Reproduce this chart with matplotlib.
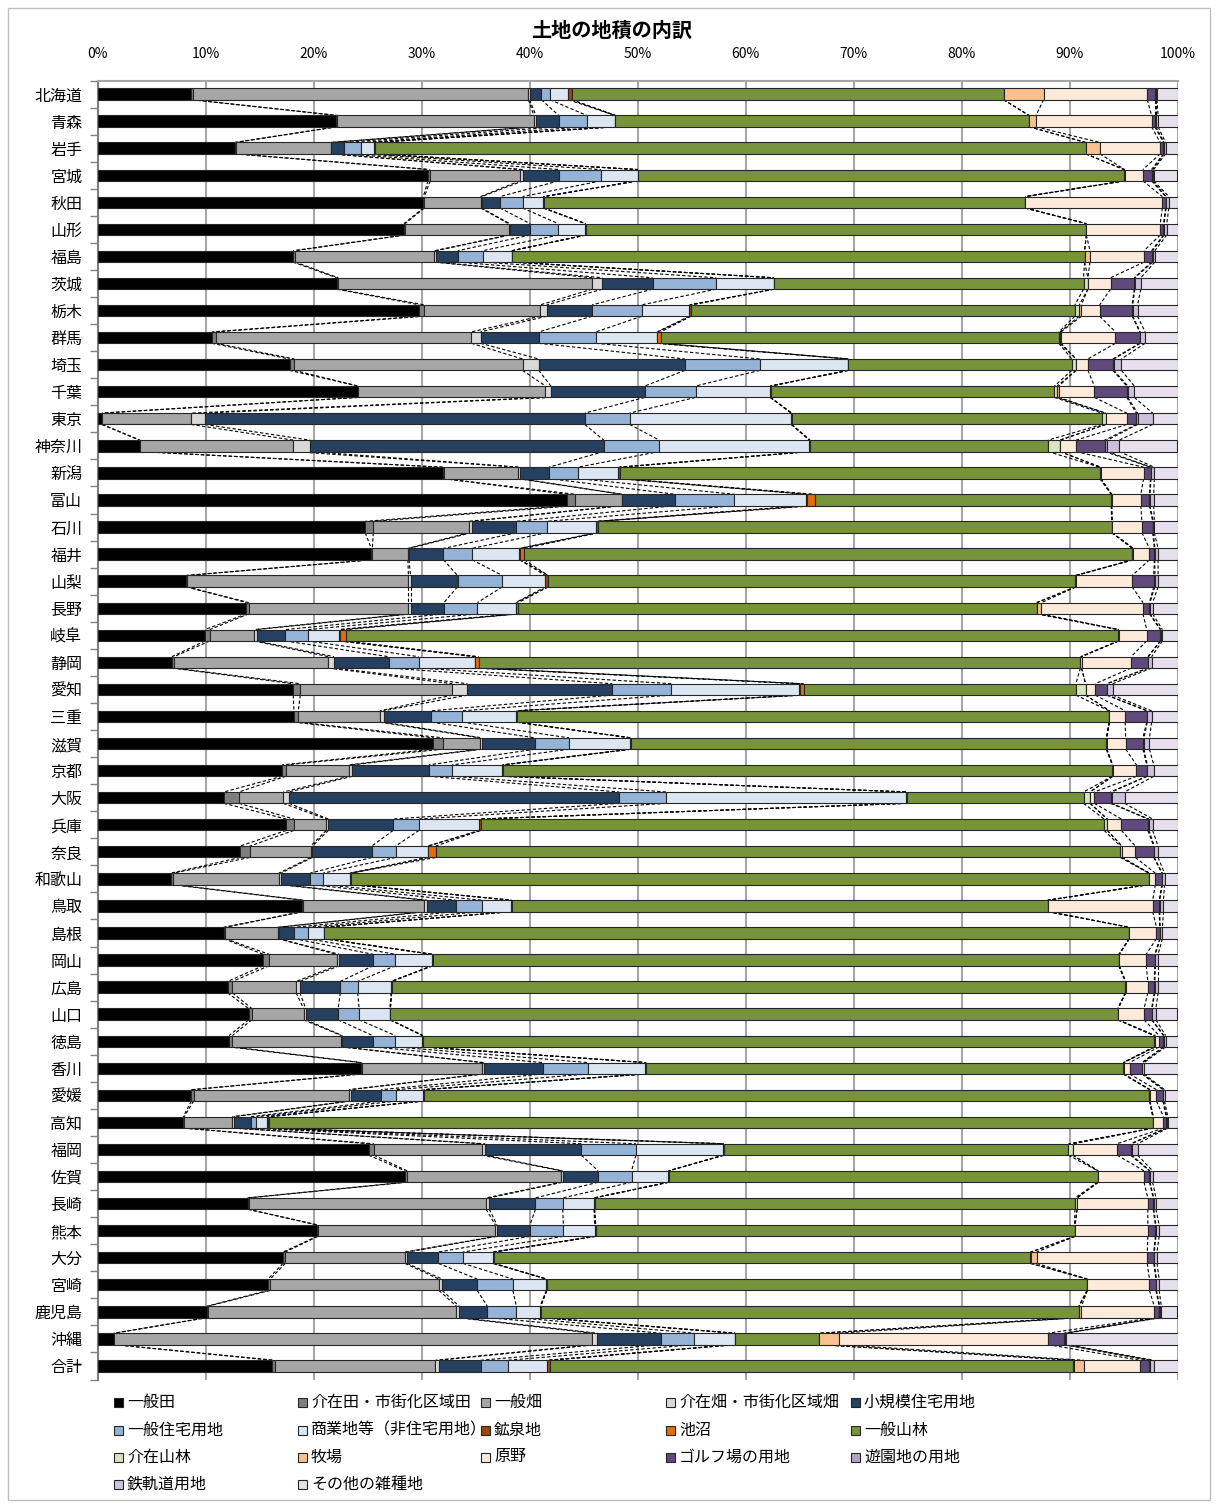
import numpy as np
import matplotlib.pyplot as plt
from matplotlib.patches import Rectangle
from matplotlib.collections import LineCollection

plt.rcParams['font.family'] = ['Noto Sans CJK JP', 'DejaVu Sans']

prefs = ['北海道', '青森', '岩手', '宮城', '秋田', '山形', '福島', '茨城', '栃木', '群馬',
         '埼玉', '千葉', '東京', '神奈川', '新潟', '富山', '石川', '福井', '山梨', '長野',
         '岐阜', '静岡', '愛知', '三重', '滋賀', '京都', '大阪', '兵庫', '奈良', '和歌山',
         '鳥取', '島根', '岡山', '広島', '山口', '徳島', '香川', '愛媛', '高知', '福岡',
         '佐賀', '長崎', '熊本', '大分', '宮崎', '鹿児島', '沖縄', '合計']

cats = ['一般田', '介在田・市街化区域田', '一般畑', '介在畑・市街化区域畑', '小規模住宅用地',
        '一般住宅用地', '商業地等（非住宅用地）', '鉱泉地', '池沼', '一般山林',
        '介在山林', '牧場', '原野', 'ゴルフ場の用地', '遊園地の用地',
        '鉄軌道用地', 'その他の雑種地']

colors = ['#000000', '#7F7F7F', '#A6A6A6', '#D9D9D9', '#254061',
          '#95B3D7', '#DCE6F2', '#984807', '#E46C0A', '#77933C',
          '#D7E4BD', '#FAC090', '#FDEADA', '#604A7B', '#B3A2C7',
          '#CCC1DA', '#E6E0EC']

# shares (%), one list per category, rows in prefs order
ippan_ta = [8.7, 22.1, 12.7, 30.6, 30.2, 28.4, 18.1, 22.15, 29.8, 10.6,
            17.8, 24.1, 0.4, 3.9, 32.0, 43.5, 24.8, 25.4, 8.2, 13.8,
            9.95, 6.9, 18.1, 18.2, 31.1, 17.1, 11.7, 17.5, 13.2, 6.8,
            19.0, 11.7, 15.35, 12.05, 14.0, 12.2, 24.4, 8.7, 7.95, 25.1,
            28.5, 13.9, 20.35, 17.2, 15.8, 10.15, 1.5, 16.2]
kaizai_ta = [0.1, 0.1, 0.1, 0.2, 0.1, 0.1, 0.2, 0.15, 0.45, 0.35,
             0.45, 0.05, 0.05, 0.05, 0.05, 0.77, 0.75, 0.1, 0.1, 0.2,
             0.45, 0.2, 0.65, 0.4, 0.9, 0.35, 1.4, 0.7, 0.9, 0.2,
             0.1, 0.15, 0.55, 0.45, 0.3, 0.3, 0.1, 0.2, 0.1, 0.5,
             0.2, 0.1, 0.1, 0.2, 0.2, 0.1, 0.05, 0.2]
ippan_hata = [31.1, 18.2, 8.8, 8.3, 5.2, 9.6, 12.9, 23.5, 10.75, 23.7,
              21.15, 17.35, 8.2, 14.2, 6.85, 4.33, 8.85, 3.3, 20.5, 14.8,
              4.1, 14.3, 14.05, 7.56, 3.4, 5.85, 4.1, 3.0, 5.64, 9.8,
              11.2, 4.85, 6.25, 5.9, 4.8, 10.1, 11.2, 14.4, 4.45, 10.0,
              14.3, 22.0, 16.45, 11.1, 15.65, 23.0, 44.3, 14.9]
kaizai_hata = [0.1, 0.2, 0.05, 0.3, 0.1, 0.1, 0.15, 0.95, 0.6, 0.85,
               1.5, 0.5, 1.3, 1.55, 0.2, 0.05, 0.25, 0.1, 0.2, 0.2,
               0.24, 0.53, 1.4, 0.34, 0.2, 0.3, 0.53, 0.2, 0.16, 0.2,
               0.24, 0.1, 0.25, 0.35, 0.2, 0.1, 0.1, 0.15, 0.14, 0.3,
               0.1, 0.3, 0.15, 0.2, 0.3, 0.25, 0.45, 0.3]
shokibo = [1.1, 2.1, 1.2, 3.3, 1.7, 1.9, 2.0, 4.65, 4.2, 5.4,
           13.56, 8.7, 35.15, 27.2, 2.7, 4.9, 4.15, 3.2, 4.35, 3.1,
           2.66, 5.07, 13.4, 4.44, 4.9, 7.1, 30.57, 6.0, 5.5, 2.7,
           2.66, 1.45, 3.14, 3.75, 3.0, 2.8, 5.5, 2.85, 1.56, 8.9,
           3.3, 4.27, 3.05, 2.9, 3.25, 2.6, 5.9, 3.9]
ippan_jutaku = [0.8, 2.6, 1.6, 3.9, 2.1, 2.6, 2.3, 5.9, 4.6, 5.3,
                6.94, 4.7, 4.15, 5.15, 2.66, 5.5, 2.8, 2.65, 4.15, 3.1,
                2.1, 2.77, 5.44, 2.86, 3.16, 2.15, 4.35, 2.4, 2.2, 1.2,
                2.44, 1.3, 2.06, 1.6, 1.95, 2.1, 4.2, 1.4, 0.54, 5.06,
                3.1, 2.53, 3.1, 2.27, 3.3, 2.7, 3.1, 2.5]
shogyo = [1.7, 2.6, 1.2, 3.4, 1.9, 2.5, 2.7, 5.3, 4.4, 5.7,
          8.16, 6.9, 14.95, 13.9, 3.77, 6.67, 4.6, 4.4, 4.0, 3.55,
          2.9, 5.23, 11.86, 5.0, 5.64, 4.65, 22.25, 5.6, 2.97, 2.5,
          2.7, 1.4, 3.4, 3.1, 2.85, 2.5, 5.3, 2.5, 0.96, 8.1,
          3.4, 2.9, 2.9, 2.78, 3.1, 2.2, 3.75, 3.6]
kosen = [0.3, 0.05, 0.05, 0.0, 0.05, 0.05, 0.05, 0.05, 0.15, 0.0,
         0.05, 0.05, 0.05, 0.05, 0.17, 0.05, 0.2, 0.05, 0.25, 0.05,
         0.05, 0.05, 0.05, 0.05, 0.1, 0.05, 0.05, 0.1, 0.05, 0.05,
         0.05, 0.05, 0.05, 0.05, 0.05, 0.05, 0.05, 0.05, 0.1, 0.05,
         0.05, 0.05, 0.1, 0.1, 0.05, 0.05, 0.0, 0.3]
chisho = [0, 0, 0, 0, 0, 0, 0, 0, 0, 0.3,
          0, 0, 0, 0, 0, 0.7, 0, 0.4, 0, 0.2,
          0.55, 0.3, 0.35, 0, 0, 0, 0, 0, 0.7, 0,
          0, 0, 0, 0, 0, 0, 0.05, 0, 0.1, 0,
          0, 0, 0, 0, 0, 0, 0.05, 0]
sanrin = [40.0, 38.3, 65.9, 45.0, 44.6, 46.4, 53.0, 28.65, 35.55, 36.9,
          20.7, 26.3, 28.7, 22.05, 44.4, 27.5, 47.55, 56.4, 48.85, 48.0,
          71.55, 55.8, 25.15, 54.85, 44.0, 56.45, 16.35, 57.8, 63.4, 73.95,
          49.7, 74.6, 63.55, 67.95, 67.4, 67.75, 44.2, 67.25, 81.95, 31.9,
          39.75, 44.5, 44.4, 49.7, 50.05, 49.85, 7.7, 48.5]
kaizai_sanrin = [0, 0, 0, 0.1, 0.05, 0, 0, 0.4, 0.4, 0.1,
                 0.4, 0.25, 0.35, 1.1, 0.1, 0.05, 0.05, 0.1, 0.05, 0.05,
                 0.05, 0.1, 0.9, 0.05, 0.05, 0.05, 0.6, 0.3, 0.15, 0.05,
                 0.05, 0.05, 0.05, 0.05, 0.05, 0.05, 0.05, 0.05, 0.05, 0.4,
                 0.05, 0.2, 0.05, 0.1, 0.05, 0.05, 0.05, 0.05]
bokujo = [3.7, 0.65, 1.3, 0, 0, 0, 0.5, 0, 0.2, 0.1,
          0, 0.15, 0, 0, 0, 0, 0, 0, 0, 0.4,
          0, 0, 0, 0, 0, 0, 0, 0, 0, 0,
          0, 0, 0, 0, 0, 0.1, 0, 0, 0, 0,
          0, 0, 0, 0.5, 0, 0.2, 1.8, 0.9]
genya = [9.6, 10.7, 5.6, 1.7, 12.7, 6.85, 5.0, 2.1, 1.7, 5.05,
         1.1, 3.3, 1.95, 1.5, 3.96, 2.7, 2.75, 1.5, 5.2, 9.4,
         2.6, 4.6, 0.9, 1.45, 1.75, 2.2, 0.4, 1.3, 1.25, 0.55,
         9.7, 2.5, 2.5, 2.05, 2.4, 0.35, 0.55, 0.6, 0.95, 4.1,
         4.25, 6.55, 6.75, 10.25, 5.75, 6.75, 19.4, 5.2]
golf = [0.7, 0.3, 0.3, 0.8, 0.3, 0.3, 0.7, 2.2, 3.0, 2.25,
        2.3, 3.0, 0.9, 2.65, 0.64, 0.8, 1.0, 0.45, 2.0, 0.6,
        1.25, 1.55, 1.05, 2.0, 1.6, 0.95, 1.5, 2.45, 1.7, 0.6,
        0.6, 0.3, 0.8, 0.6, 0.7, 0.4, 1.15, 0.6, 0.25, 1.25,
        0.5, 0.5, 0.7, 0.6, 0.6, 0.45, 1.5, 0.9]
yuenchi = [0.1, 0.1, 0.05, 0.1, 0.05, 0.05, 0.1, 0.05, 0.05, 0.05,
           0.1, 0.1, 0.1, 0.25, 0.05, 0.05, 0.05, 0.05, 0.1, 0.05,
           0.05, 0.05, 0.05, 0.05, 0.1, 0.05, 0.1, 0.1, 0.05, 0.05,
           0.05, 0.05, 0.05, 0.05, 0.05, 0.05, 0.05, 0.05, 0.05, 0.1,
           0.05, 0.05, 0.05, 0.05, 0.05, 0.05, 0.1, 0.05]
tetsudo = [0.1, 0.2, 0.15, 0.1, 0.25, 0.25, 0.2, 0.55, 0.45, 0.45,
           0.7, 0.6, 1.4, 1.1, 0.3, 0.35, 0.1, 0.3, 0.3, 0.25,
           0.15, 0.3, 0.5, 0.4, 0.5, 0.6, 1.2, 0.35, 0.35, 0.2,
           0.35, 0.2, 0.25, 0.3, 0.35, 0.15, 0.15, 0.1, 0.1, 0.55,
           0.25, 0.2, 0.3, 0.25, 0.25, 0.15, 0.1, 0.35]
sonota = [1.9, 1.8, 1.1, 2.2, 0.8, 1.0, 2.1, 3.4, 3.7, 3.0,
          5.2, 4.0, 2.3, 5.4, 2.15, 2.2, 2.15, 1.8, 1.8, 2.3,
          1.4, 2.4, 6.0, 2.4, 2.6, 2.2, 4.9, 2.3, 1.8, 1.2,
          1.3, 1.4, 1.8, 1.8, 2.0, 1.1, 3.1, 1.2, 0.9, 3.7,
          2.3, 2.0, 1.7, 1.9, 1.7, 1.5, 10.3, 2.2]

data = np.array([ippan_ta, kaizai_ta, ippan_hata, kaizai_hata, shokibo,
                 ippan_jutaku, shogyo, kosen, chisho, sanrin,
                 kaizai_sanrin, bokujo, genya, golf, yuenchi,
                 tetsudo, sonota], dtype=float).T
share = data / data.sum(axis=1, keepdims=True) * 100
cum = np.cumsum(share, axis=1)
left = cum - share

W, H = 1218, 1506
fig = plt.figure(figsize=(W / 100, H / 100), dpi=100)
ax = fig.add_axes([97.5 / W, 1 - 1379.5 / H, 1080 / W, 1299 / H])

y = np.arange(len(prefs))
h = 0.42
for k in range(len(cats)):
    ax.barh(y, share[:, k], left=left[:, k], height=h, color=colors[k],
            edgecolor='#262626', linewidth=0.8, zorder=3)

# series lines between neighbouring bars
segs = []
for i in range(len(prefs) - 1):
    for k in range(len(cats) - 1):
        segs.append([(cum[i, k], i + h / 2), (cum[i + 1, k], i + 1 - h / 2)])
ax.add_collection(LineCollection(segs, colors='black', linewidths=0.8,
                                 linestyles=(0, (3, 2)), zorder=2))

ax.set_xlim(0, 100)
ax.set_ylim(len(prefs) - 0.5, -0.5)
ax.xaxis.tick_top()
ax.set_xticks(range(0, 101, 10))
ax.set_xticklabels([f'{v}%' for v in range(0, 101, 10)], fontsize=10)
ax.tick_params(axis='x', length=0, pad=14)
ax.set_yticks(y)
ax.set_yticklabels(prefs, fontsize=11.5)
ax.tick_params(axis='y', length=0, pad=11)
ax.set_yticks(np.arange(-0.5, len(prefs), 1), minor=True)
ax.tick_params(axis='y', which='minor', length=6, color='#808080', width=1)
ax.grid(axis='x', color='#A6A6A6', linewidth=1.5, zorder=0)
ax.set_axisbelow(True)
for s in ['right', 'bottom']:
    ax.spines[s].set_visible(False)
ax.spines['left'].set_color('#808080')
ax.spines['left'].set_linewidth(1.5)
ax.spines['top'].set_color('#A6A6A6')
ax.spines['top'].set_linewidth(1.5)

fig.text(612 / W, 1 - 30 / H, '土地の地積の内訳', ha='center', va='center',
         fontsize=14.5, fontweight='bold')

# legend, laid out row by row in five columns
col_x = [114, 298, 481, 666, 851]
row_y = [1402, 1430, 1457, 1484]
for n, (name, c) in enumerate(zip(cats, colors)):
    cx = col_x[n % 5]
    cy = row_y[n // 5]
    fig.patches.append(Rectangle((cx / W, 1 - (cy + 4.5) / H), 9 / W, 9 / H,
                                 transform=fig.transFigure, facecolor=c,
                                 edgecolor='#262626', linewidth=0.8))
    fig.text((cx + 13) / W, 1 - cy / H, name, ha='left', va='center',
             fontsize=11.5)

fig.patches.append(Rectangle((8 / W, 6 / H), 1202 / W, 1492 / H,
                             transform=fig.transFigure, fill=False,
                             edgecolor='#BFBFBF', linewidth=1))

fig.savefig('out.png', dpi=100)
